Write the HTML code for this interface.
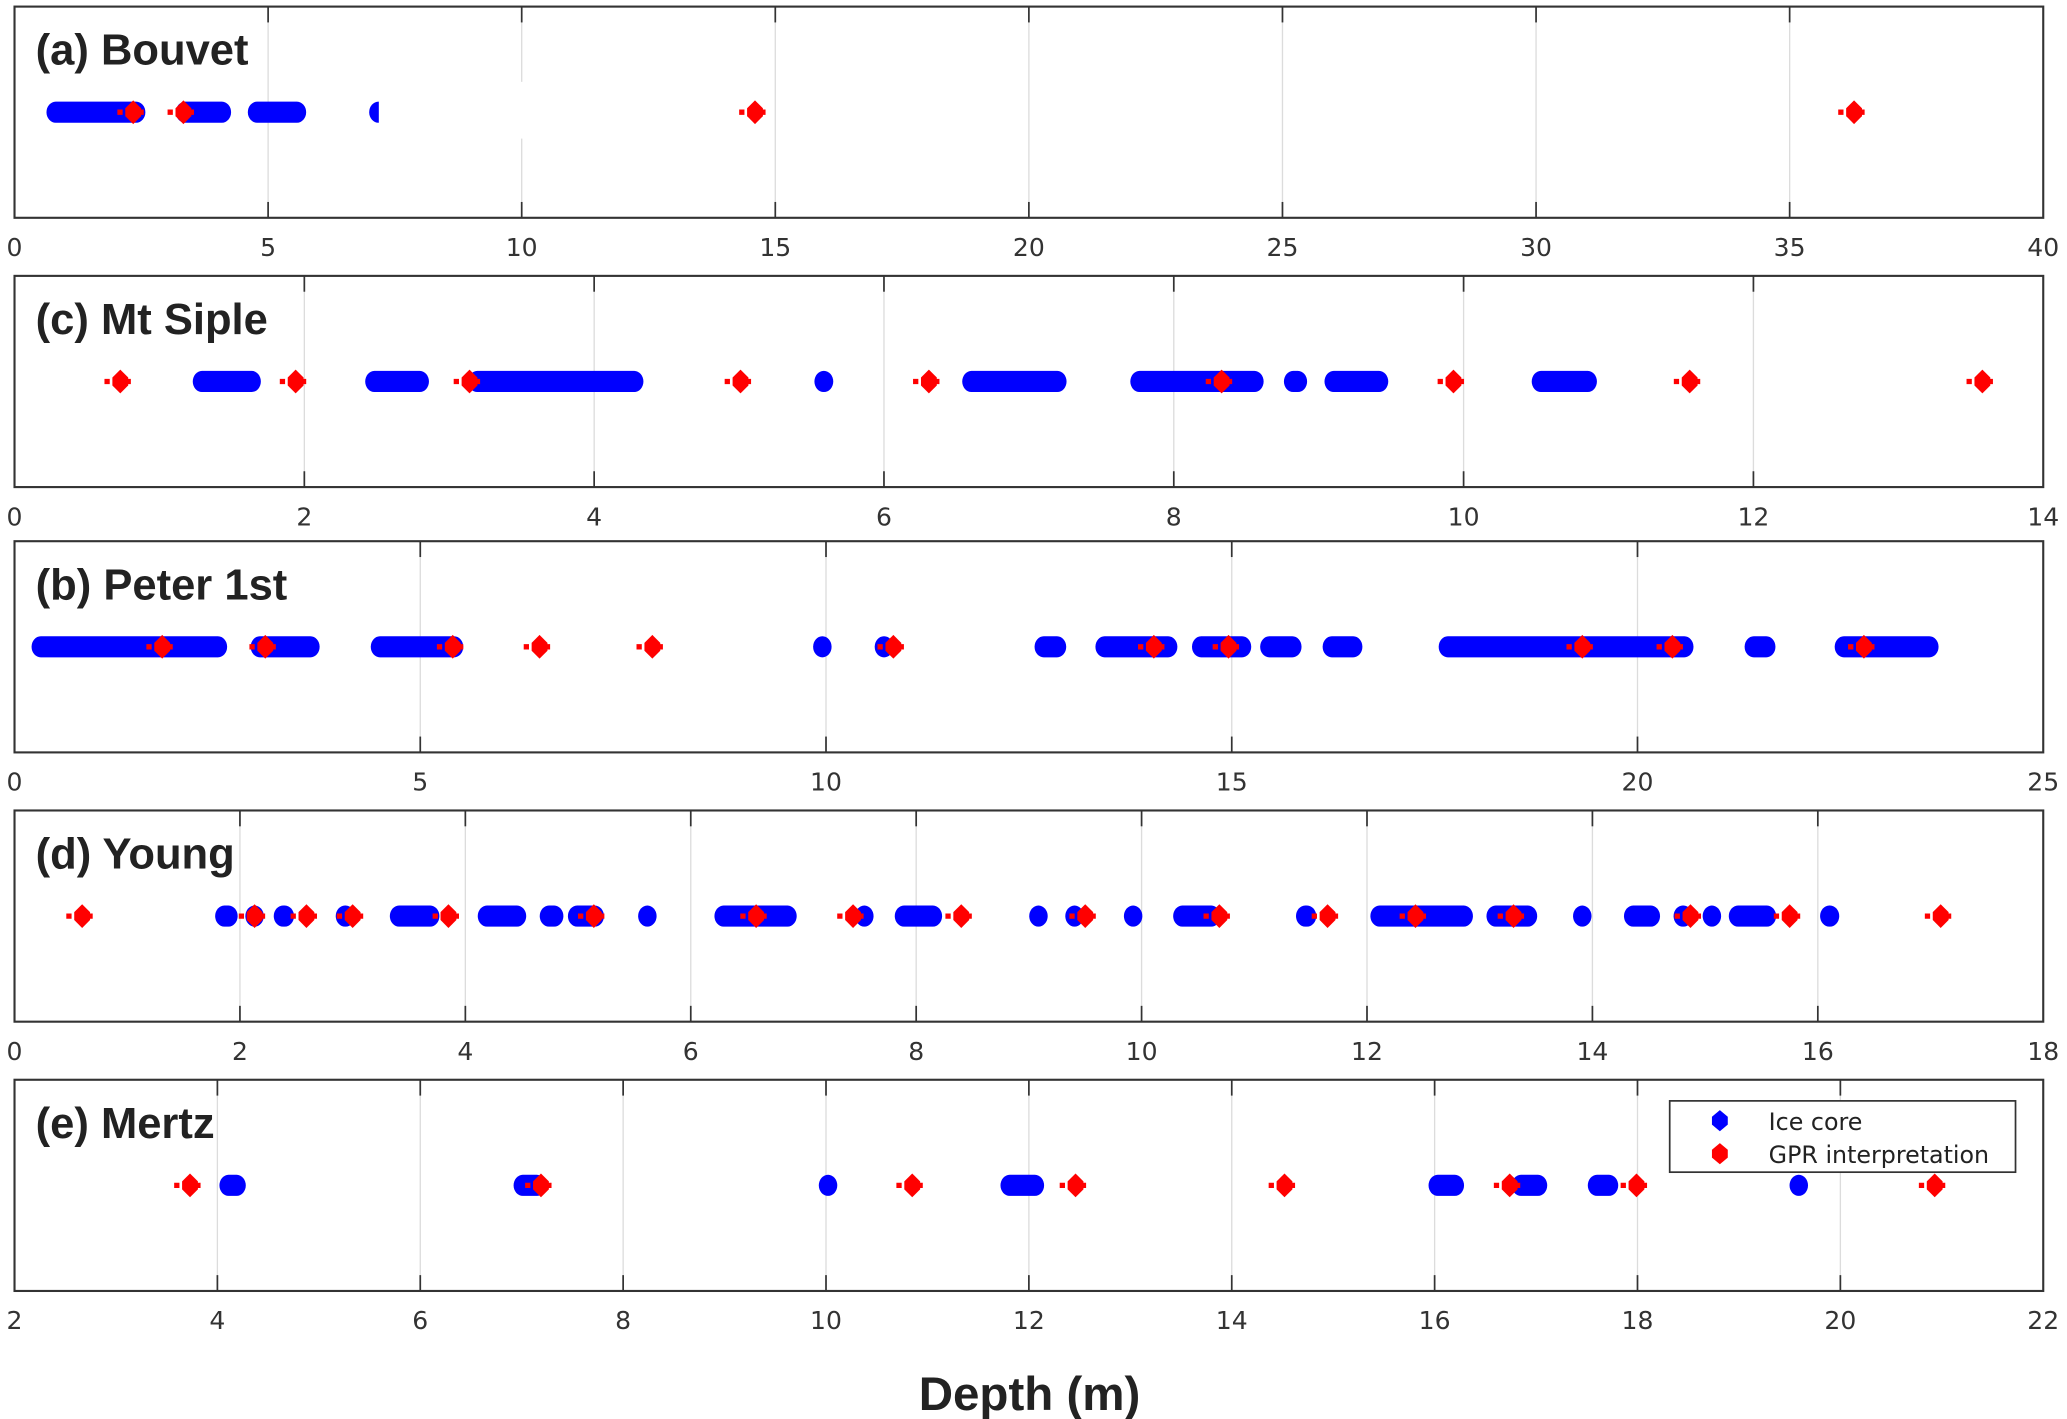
<!DOCTYPE html>
<html><head><meta charset="utf-8"><style>
html,body{margin:0;padding:0;background:#fff;}
svg{display:block;}
</style></head><body>
<svg id="fig" width="2067" height="1419" viewBox="0 0 1566 1075" preserveAspectRatio="none" xmlns="http://www.w3.org/2000/svg"></svg>
<script>
// Panel axis ranges
const panelNames = ["(a) Bouvet","(c) Mt Siple","(b) Peter 1st","(d) Young","(e) Mertz"];
const panelMin = [0,0,0,0,2];
const panelMax = [40,14,25,18,22];
const panelStep = [5,2,5,2,2];
// Ice core depth segments [start,end] (m)
const iceBouvet = [[0.63,2.58],[3.18,4.27],[4.6,5.75],[7.1,7.25]];
const iceSiple = [[1.23,1.70],[2.42,2.86],[3.13,4.34],[5.52,5.65],[6.54,7.26],[7.70,8.62],[8.76,8.92],[9.04,9.48],[10.47,10.92]];
const icePeter = [[0.21,2.62],[2.91,3.76],[4.39,5.53],[9.87,10.04],[10.6,10.83],[12.57,12.96],[13.32,14.33],[14.51,15.24],[15.35,15.86],[16.12,16.61],[17.55,20.69],[21.32,21.7],[22.43,23.71]];
const iceYoung = [[1.78,1.98],[2.05,2.21],[2.30,2.48],[2.85,3.02],[3.33,3.77],[4.11,4.54],[4.66,4.87],[4.91,5.23],[5.55,5.68],[6.21,6.94],[7.48,7.60],[7.81,8.23],[9.02,9.15],[9.37,9.44],[9.88,9.97],[10.28,10.70],[11.37,11.55],[12.03,12.94],[13.06,13.51],[13.83,13.99],[14.28,14.60],[14.72,14.89],[14.98,15.14],[15.21,15.63],[16.02,16.19]];
const iceMertz = [[4.02,4.28],[6.92,7.24],[9.95,10.09],[11.72,12.15],[15.94,16.29],[16.76,17.11],[17.51,17.81],[19.59,19.59]];
// GPR interpretation depths (m)
const gprBouvet = [2.34,3.33,14.6,36.27];
const gprSiple = [0.73,1.94,3.14,5.01,6.31,8.33,9.93,11.56,13.58];
const gprPeter = [1.82,3.09,5.40,6.47,7.86,10.83,14.04,14.96,19.32,20.43,22.79];
const gprYoung = [0.60,2.13,2.59,3.00,3.85,5.14,6.58,7.44,8.40,9.50,10.69,11.65,12.43,13.30,14.87,15.75,17.09];
const gprMertz = [3.73,7.19,10.85,12.46,14.52,16.74,17.99,20.93];
const iceAll = [iceBouvet,iceSiple,icePeter,iceYoung,iceMertz];
const gprAll = [gprBouvet,gprSiple,gprPeter,gprYoung,gprMertz];
const panelKeys = ["bouvet","mt-siple","peter-1st","young","mertz"];

const NS="http://www.w3.org/2000/svg";
const svg=document.getElementById('fig');
function mk(tag,attrs,parent){const e=document.createElementNS(NS,tag);for(const k in attrs)e.setAttribute(k,attrs[k]);(parent||svg).appendChild(e);return e;}
const L=11,R=1548;
const tops=[5,209,410,614,818];
const H=160;
for(let p=0;p<5;p++){
  const top=tops[p],bot=top+H,my=top+80;
  const g=mk('g',{});
  
  
  const xs=v=>L+(v-panelMin[p])/(panelMax[p]-panelMin[p])*(R-L);
  const bg=mk('rect',{x:L,y:top,width:R-L,height:H,fill:'#fff'},g);
  
  
  for(let v=panelMin[p];v<=panelMax[p]+1e-9;v+=panelStep[p]){
    const x=xs(v);
    if(v>panelMin[p]&&v<panelMax[p]){
      const gl=mk('line',{x1:x,x2:x,y1:top,y2:bot,stroke:'#dcdcdc','stroke-width':1},g);
      
      
      mk('line',{x1:x,x2:x,y1:top,y2:top+12,stroke:'#333','stroke-width':1.3},g);
      mk('line',{x1:x,x2:x,y1:bot-12,y2:bot,stroke:'#333','stroke-width':1.3},g);
    }
    const t=mk('text',{x:x,y:bot+29,'text-anchor':'middle','font-family':'"DejaVu Sans","Liberation Sans",sans-serif','font-size':19,fill:'#333'},g);
    t.textContent=String(v);
    
    
  }
  iceAll[p].forEach(s=>{
    const x1=xs(s[0]),x2=xs(s[1]);
    const w=Math.max(x2-x1,14), cx=(x1+x2)/2;
    const r=mk('rect',{x:cx-w/2,y:my-8,width:w,height:16,rx:7,ry:8,fill:'#0000ff'},g);
    
    
  });
  gprAll[p].forEach(v=>{
    const x=xs(v);
    const eb=mk('line',{x1:x-12,x2:x+12,y1:my,y2:my,stroke:'#ff0000','stroke-width':4,'stroke-dasharray':'4 4'},g);
    
    
    const d=mk('path',{d:`M${x},${my-9} L${x+6},${my-3} L${x+6},${my+3} L${x},${my+9} L${x-6},${my+3} L${x-6},${my-3} Z`,fill:'#ff0000'},g);
    
    
  });
  if(p===0){
    const wb=mk('rect',{x:287,y:62,width:233,height:43,fill:'#fff'},g);
    
    
  }
  const fr=mk('rect',{x:L,y:top,width:R-L,height:H,fill:'none',stroke:'#333','stroke-width':1.6},g);
  
  
  const tt=mk('text',{x:27,y:top+44,'font-family':'"Liberation Sans",sans-serif','font-weight':'bold','font-size':33,fill:'#222'},g);
  tt.textContent=panelNames[p];
  
  
}
// legend
const lg=mk('g',{});


mk('rect',{x:1265,y:834,width:262,height:54,fill:'#fff',stroke:'#333','stroke-width':1.3},lg);
const legItems=[['Ice core','#0000ff',849],['GPR interpretation','#ff0000',874]];
legItems.forEach(it=>{
  const m=mk('path',{d:`M1303,${it[2]-8} L1309,${it[2]-3} L1309,${it[2]+3} L1303,${it[2]+8} L1297,${it[2]+3} L1297,${it[2]-3} Z`,fill:it[1]},lg);
  
  
  const t=mk('text',{x:1340,y:it[2]+7,'font-family':'"DejaVu Sans","Liberation Sans",sans-serif','font-size':18,fill:'#222'},lg);
  t.textContent=it[0];
  
  
});
const xl=mk('text',{x:780,y:1068,'text-anchor':'middle','font-family':'"Liberation Sans",sans-serif','font-weight':'bold','font-size':36,fill:'#222'});
xl.textContent='Depth (m)';


</script>
</body></html>
